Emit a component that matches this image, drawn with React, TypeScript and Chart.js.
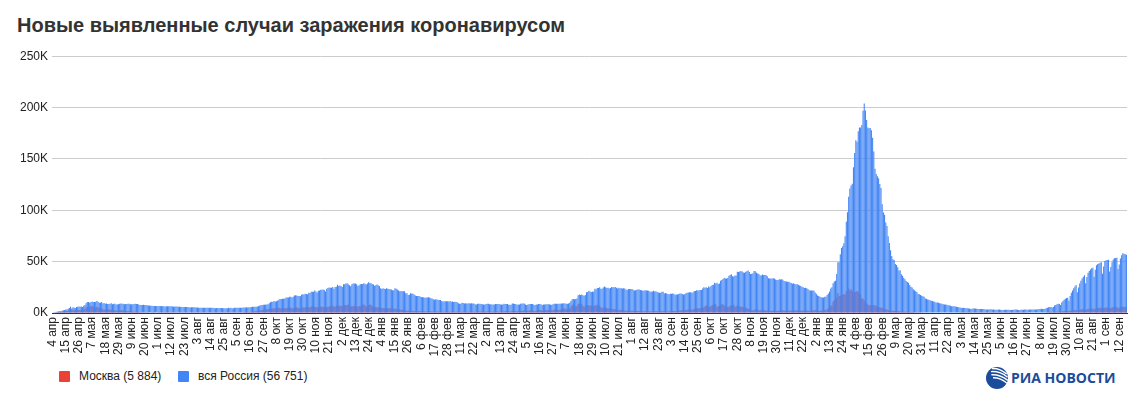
import React, { useEffect, useRef } from "react";
import { Chart, registerables } from "chart.js";

Chart.register(...registerables);

// ---- categories / tick labels ----
const MONTHS = ["янв", "фев", "мар", "апр", "мая", "июн", "июл", "авг", "сен", "окт", "ноя", "дек"];
const START_YEAR = 2020;
const START_MONTH = 3; // April (0-based)
const START_DAY = 4;
const TICK_EVERY = 11;

const tickLabels = [
  "4 апр", "15 апр", "26 апр", "7 мая", "18 мая", "29 мая", "9 июн", "20 июн", "1 июл", "12 июл",
  "23 июл", "3 авг", "14 авг", "25 авг", "5 сен", "16 сен", "27 сен", "8 окт", "19 окт", "30 окт",
  "10 ноя", "21 ноя", "2 дек", "13 дек", "24 дек", "4 янв", "15 янв", "26 янв", "6 фев", "17 фев",
  "28 фев", "11 мар", "22 мар", "2 апр", "13 апр", "24 апр", "5 мая", "16 мая", "27 мая", "7 июн",
  "18 июн", "29 июн", "10 июл", "21 июл", "1 авг", "12 авг", "23 авг", "3 сен", "14 сен", "25 сен",
  "6 окт", "17 окт", "28 окт", "8 ноя", "19 ноя", "30 ноя", "11 дек", "22 дек", "2 янв", "13 янв",
  "24 янв", "4 фев", "15 фев", "26 фев", "9 мар", "20 мар", "31 мар", "11 апр", "22 апр", "3 мая",
  "14 мая", "25 мая", "5 июн", "16 июн", "27 июн", "8 июл", "19 июл", "30 июл", "10 авг", "21 авг",
  "1 сен", "12 сен",
];

// ---- series: daily new cases, thousands ----
// вся Россия, 4 Apr 2020 – 31 Dec 2020
const russia2020 = [
  0.6, 0.7, 1.0, 1.2, 1.2, 1.5, 1.8, 1.7, 2.2, 2.6, 2.8, 3.4, 3.4, 4.1, 4.8, 6.1, 4.3, 5.6, 5.2, 4.8, 5.8, 6.0, 6.4, 6.2, 6.4, 5.8, 7.1,
  7.9, 9.6, 10.6, 10.6, 10.1, 10.6, 11.2, 10.7, 10.8, 11.0, 11.7, 10.9, 10.0, 10.0, 10.6, 9.2, 9.7, 8.9, 9.3, 8.8, 8.8, 8.9, 9.4, 8.6, 9.0, 8.9, 8.3, 8.4, 8.6, 9.0, 9.3,
  9.0, 8.9, 8.5, 8.8, 8.7, 8.9, 9.0, 8.6, 8.6, 8.4, 8.8, 9.0, 8.7, 8.8, 8.2, 7.8, 7.8, 7.8, 8.0, 7.9, 7.7, 7.6, 7.4, 7.2, 7.1, 7.1, 6.9, 6.8, 6.7, 6.7,
  6.6, 6.8, 6.8, 6.6, 6.7, 6.6, 6.4, 6.6, 6.5, 6.6, 6.6, 6.6, 6.5, 6.2, 6.4, 6.4, 6.3, 6.2, 6.1, 6.0, 5.8, 5.9, 5.8, 5.8, 5.9, 5.8, 5.6, 5.4, 5.5, 5.5, 5.5,
  5.5, 5.4, 5.4, 5.2, 5.2, 5.2, 5.2, 5.2, 5.2, 5.1, 5.0, 5.1, 5.1, 5.1, 5.1, 5.1, 4.8, 4.7, 4.8, 4.8, 4.9, 4.9, 4.9, 4.9, 4.7, 4.7, 4.7, 4.7, 5.0, 4.9, 5.0,
  4.7, 4.7, 5.0, 5.1, 5.2, 5.2, 5.2, 5.1, 5.2, 5.4, 5.4, 5.4, 5.5, 5.4, 5.5, 5.7, 5.9, 6.1, 6.1, 6.1, 6.2, 6.4, 6.6, 7.2, 7.5, 7.9, 8.1, 8.1, 8.2, 8.2,
  8.5, 9.4, 10.5, 10.9, 10.9, 11.6, 11.1, 11.5, 12.1, 12.8, 13.6, 13.6, 13.9, 13.8, 14.2, 15.2, 15.2, 15.0, 15.9, 15.8, 15.0, 15.7, 17.0, 17.3, 17.0, 16.6, 16.6, 16.2, 17.7, 18.3, 18.1,
  18.7, 18.6, 18.3, 19.8, 19.4, 20.6, 20.6, 20.6, 21.8, 20.9, 19.9, 21.6, 22.0, 22.7, 22.6, 22.8, 22.4, 21.0, 23.6, 24.3, 24.8, 24.6, 24.6, 25.2, 23.7, 25.3, 25.5, 27.5, 26.3, 26.7,
  26.4, 25.3, 28.1, 28.0, 28.8, 29.0, 28.1, 27.0, 26.1, 27.9, 28.6, 28.6, 28.6, 28.1, 26.4, 27.0, 27.9, 28.2, 28.2, 28.9, 28.5, 27.8, 28.6, 29.9, 29.3, 29.0, 28.3, 27.8, 26.5, 27.0, 27.7,
];
// вся Россия, 2021
const russia2021 = [
  27.0, 26.3, 24.2, 23.4, 24.2, 23.5, 23.4, 24.0, 23.7, 23.3, 23.0, 22.9, 22.2, 22.2, 24.1, 23.7, 22.9, 22.0, 21.1, 21.3, 21.2, 21.1, 21.1, 19.3, 19.2, 17.6, 17.7, 19.2, 19.1, 18.7, 18.1,
  17.0, 16.6, 16.6, 16.5, 16.0, 15.6, 15.4, 15.3, 14.9, 15.0, 15.2, 15.4, 15.2, 14.4, 14.0, 13.4, 13.0, 13.4, 13.1, 12.9, 12.7, 12.7, 11.8, 11.2, 11.4, 11.5, 11.5, 11.5,
  11.3, 11.6, 11.0, 11.2, 10.6, 11.0, 10.6, 10.5, 9.4, 9.1, 9.1, 9.9, 9.8, 9.3, 9.5, 9.3, 9.3, 9.4, 9.3, 9.4, 9.3, 9.3, 8.4, 8.3, 9.1, 9.0, 9.1, 8.8, 8.6, 8.3, 8.2,
  8.8, 9.0, 8.9, 8.6, 8.6, 8.3, 8.3, 8.2, 8.8, 8.8, 8.7, 8.7, 8.2, 8.2, 8.3, 9.0, 8.8, 8.7, 8.7, 8.1, 8.1, 8.1, 9.3, 9.3, 8.8, 8.8, 8.1, 8.2, 8.3, 9.0,
  9.3, 9.3, 9.2, 8.2, 7.8, 8.3, 8.4, 8.7, 8.7, 8.7, 8.0, 7.9, 8.2, 8.3, 8.8, 8.8, 8.6, 7.8, 8.2, 8.2, 8.6, 8.6, 8.6, 8.4, 8.1, 8.1, 8.4, 8.9, 9.0, 9.1, 9.0,
  8.9, 9.1, 9.3, 9.3, 9.5, 9.3, 9.0, 9.0, 9.2, 9.9, 11.7, 13.5, 13.7, 13.4, 13.7, 14.1, 17.3, 17.9, 17.6, 17.9, 17.4, 16.7, 17.6, 20.2, 20.4, 21.7, 21.0, 20.5, 20.6, 21.0,
  23.5, 23.2, 24.4, 24.4, 25.1, 23.7, 23.5, 24.8, 25.8, 25.1, 24.4, 24.7, 23.8, 24.4, 25.3, 25.0, 25.0, 25.2, 24.6, 23.8, 24.5, 24.1, 24.1, 23.8, 24.1, 23.8, 22.8, 22.4, 23.3, 23.3, 23.3,
  23.3, 22.6, 21.9, 22.1, 22.6, 22.8, 22.8, 22.5, 22.2, 21.6, 21.9, 22.2, 22.0, 21.8, 21.6, 21.0, 20.8, 21.0, 21.6, 21.0, 21.1, 20.5, 20.0, 19.7, 19.6, 20.8, 20.7, 19.1, 19.5, 18.9, 18.6,
  18.3, 18.8, 18.8, 18.9, 18.8, 17.8, 17.9, 17.9, 18.6, 18.9, 18.9, 18.6, 18.0, 18.3, 19.3, 19.6, 19.9, 20.3, 20.2, 19.7, 20.2, 21.4, 21.4, 22.1, 21.9, 22.2, 22.3, 22.4, 23.9, 25.1,
  24.5, 25.0, 24.4, 25.8, 25.1, 26.4, 27.2, 27.6, 29.4, 28.6, 29.4, 28.2, 28.7, 31.3, 32.2, 33.2, 34.3, 33.7, 33.7, 34.1, 36.3, 37.1, 37.7, 35.7, 35.6, 36.4, 36.6, 40.1, 39.8, 40.3, 41.0,
  40.4, 39.4, 39.2, 40.2, 40.7, 41.3, 39.8, 38.0, 38.1, 38.6, 40.8, 40.6, 39.2, 38.5, 37.9, 36.8, 36.6, 37.4, 37.1, 37.1, 36.9, 35.7, 33.9, 33.6, 33.6, 33.7, 33.9, 33.5, 32.6, 32.1,
  32.1, 32.9, 32.6, 32.8, 32.4, 31.1, 31.0, 30.6, 30.4, 30.5, 29.6, 29.1, 28.5, 28.9, 28.3, 28.1, 28.0, 27.5, 26.8, 26.2, 25.5, 25.0, 24.4, 24.7, 24.2, 23.4, 22.1, 21.9, 21.9, 21.8, 21.9,
];
// вся Россия, 1 Jan 2022 – 18 Sep 2022
const russia2022 = [
  20.0, 18.8, 17.1, 16.6, 15.9, 15.4, 15.1, 15.2, 15.8, 15.9, 17.5, 19.1, 21.0, 23.8, 25.1, 29.0, 30.7, 31.3, 38.0, 49.5, 49.5, 57.2, 63.2, 65.1, 67.8, 74.7, 88.8, 98.0, 113.1, 121.2, 124.1,
  125.8, 141.9, 155.8, 168.2, 166.6, 177.0, 180.5, 180.5, 183.1, 197.0, 203.9, 197.1, 187.9, 180.5, 179.9, 180.1, 177.8, 170.5, 157.2, 140.4, 135.2, 133.2, 131.1, 125.6, 121.8, 105.8, 98.0, 95.6,
  88.2, 84.6, 74.7, 68.1, 61.2, 55.5, 52.3, 51.6, 47.6, 46.8, 44.6, 41.3, 41.6, 37.8, 36.3, 34.2, 32.8, 31.1, 30.2, 29.4, 27.3, 25.6, 24.8, 23.1, 22.1, 21.1, 20.4, 18.6, 18.2, 17.6, 16.9,
  16.2, 15.9, 14.1, 13.8, 13.1, 12.9, 12.5, 11.9, 11.7, 11.3, 10.9, 10.1, 10.4, 10.0, 9.4, 9.3, 9.1, 8.6, 8.3, 8.2, 8.0, 7.6, 7.5, 7.1, 6.6, 6.5, 6.5, 6.3, 6.2, 5.8,
  5.7, 5.3, 5.0, 4.9, 5.0, 4.8, 4.8, 4.7, 4.5, 4.3, 4.0, 4.2, 4.4, 4.4, 4.3, 4.2, 3.8, 3.9, 3.9, 3.9, 3.9, 3.8, 3.5, 3.4, 3.5, 3.5, 3.6, 3.6, 3.5, 3.3, 3.1,
  3.2, 3.2, 3.3, 3.3, 3.2, 3.0, 3.0, 3.1, 3.1, 3.2, 3.2, 3.1, 3.0, 2.9, 3.1, 3.2, 3.3, 3.3, 3.2, 2.9, 2.9, 3.1, 3.2, 3.2, 3.3, 3.3, 3.1, 3.1, 3.3, 3.4,
  3.5, 3.5, 3.5, 3.3, 3.4, 3.7, 3.9, 4.0, 4.2, 4.0, 3.9, 4.2, 4.7, 5.1, 5.5, 5.9, 5.8, 5.3, 5.9, 7.3, 7.9, 8.5, 9.0, 8.7, 7.8, 10.2, 11.7, 12.8, 13.9, 14.5, 14.9,
  11.9, 16.5, 19.8, 22.0, 24.1, 25.9, 27.2, 20.1, 24.8, 28.6, 31.3, 33.5, 35.4, 36.8, 28.9, 35.1, 39.2, 41.0, 42.3, 43.5, 44.1, 35.2, 42.0, 46.4, 47.6, 48.3, 49.0, 49.5, 38.3, 45.2, 50.6,
  51.3, 51.6, 51.9, 40.4, 44.8, 49.5, 52.1, 53.2, 53.6, 53.9, 42.8, 47.3, 53.0, 56.2, 58.1, 57.6, 57.3, 56.751,
];

// Москва, 4 Apr 2020 – 31 Dec 2020
const moscow2020 = [
  0.4, 0.4, 0.6, 0.7, 0.8, 1.1, 1.3, 1.1, 1.4, 1.5, 1.3, 1.9, 2.0, 2.0, 3.6, 3.6, 2.7, 3.1, 2.5, 2.4, 3.1, 2.6, 2.9, 2.5, 3.1, 2.2, 3.4,
  4.1, 5.4, 6.0, 5.8, 5.9, 6.7, 6.7, 5.7, 5.7, 5.4, 6.2, 5.4, 4.8, 4.7, 4.8, 3.5, 3.5, 3.2, 3.5, 3.4, 3.5, 3.1, 2.8, 2.5, 2.5, 2.6, 2.1, 2.1, 2.3, 2.3, 2.6,
  2.6, 2.3, 1.8, 2.0, 1.6, 1.6, 1.6, 1.6, 1.2, 1.1, 1.2, 1.2, 1.0, 1.0, 1.0, 0.7, 0.7, 0.8, 0.8, 0.8, 0.8, 0.8, 0.7, 0.6, 0.6, 0.7, 0.7, 0.7, 0.6, 0.6,
  0.62, 0.62, 0.66, 0.68, 0.68, 0.68, 0.66, 0.64, 0.63, 0.65, 0.67, 0.68, 0.67, 0.66, 0.65, 0.67, 0.65, 0.66, 0.66, 0.66, 0.64, 0.67, 0.68, 0.68, 0.69, 0.69, 0.69, 0.67, 0.69, 0.69, 0.68,
  0.68, 0.69, 0.70, 0.67, 0.69, 0.68, 0.69, 0.70, 0.69, 0.67, 0.65, 0.68, 0.69, 0.70, 0.69, 0.68, 0.66, 0.65, 0.66, 0.68, 0.68, 0.69, 0.68, 0.66, 0.65, 0.66, 0.68, 0.70, 0.71, 0.72, 0.71,
  0.68, 0.69, 0.73, 0.74, 0.75, 0.77, 0.76, 0.77, 0.77, 0.80, 0.86, 0.93, 0.97, 1.05, 1.06, 1.05, 1.15, 1.35, 1.55, 1.59, 1.67, 1.78, 2.01, 2.30, 2.70, 2.90, 3.32, 3.49, 3.61, 3.63,
  3.73, 4.08, 4.65, 4.49, 4.45, 4.98, 4.43, 4.75, 5.07, 4.99, 4.62, 4.46, 4.57, 4.53, 4.54, 4.54, 5.20, 5.23, 5.36, 5.23, 4.69, 4.60, 5.70, 5.09, 5.58, 5.21, 4.65, 4.23, 4.57, 5.26, 5.47,
  5.46, 5.90, 5.28, 5.29, 5.89, 6.10, 6.25, 6.90, 6.20, 5.85, 5.45, 5.48, 5.59, 6.45, 5.86, 5.97, 5.70, 5.59, 5.52, 6.00, 6.17, 7.17, 6.87, 6.43, 6.73, 5.77, 6.95, 6.51, 7.08, 7.11,
  6.97, 6.50, 6.95, 7.45, 7.75, 7.73, 7.94, 6.69, 6.17, 6.69, 6.61, 7.06, 7.99, 6.43, 6.07, 6.83, 6.67, 7.48, 7.79, 8.20, 7.61, 6.04, 6.31, 7.86, 8.29, 7.96, 6.55, 5.98, 5.53, 5.55, 5.60,
];
// Москва, 2021
const moscow2021 = [
  5.40, 5.30, 5.12, 4.75, 4.84, 4.70, 4.62, 4.70, 4.60, 4.58, 4.65, 4.19, 4.11, 4.12, 4.26, 3.96, 3.57, 3.39, 3.45, 3.20, 3.06, 2.99, 2.83, 2.55, 2.31, 2.10, 2.38, 2.30, 2.20, 2.05, 2.01,
  1.82, 1.78, 1.75, 1.82, 1.94, 1.76, 1.67, 1.60, 1.39, 1.53, 1.59, 1.62, 1.61, 1.50, 1.39, 1.32, 1.33, 1.44, 1.43, 1.36, 1.31, 1.25, 1.21, 1.14, 1.28, 1.33, 1.29, 1.26,
  1.19, 1.16, 1.27, 1.36, 1.26, 1.30, 1.20, 1.18, 1.07, 1.01, 1.08, 1.21, 1.24, 1.14, 1.14, 1.06, 1.23, 1.28, 1.28, 1.24, 1.24, 1.12, 1.08, 1.20, 1.41, 1.41, 1.39, 1.40, 1.20, 1.13, 1.28,
  1.36, 1.49, 1.51, 1.44, 1.30, 1.24, 1.29, 1.43, 1.51, 1.51, 1.47, 1.31, 1.10, 1.29, 1.40, 1.53, 1.59, 1.60, 1.50, 1.34, 1.46, 1.48, 1.92, 1.96, 1.83, 1.67, 1.47, 1.59, 1.72, 1.78,
  2.13, 2.24, 2.43, 2.20, 1.83, 2.20, 2.32, 2.43, 2.41, 2.32, 1.79, 2.03, 2.22, 2.44, 2.64, 2.80, 2.68, 2.13, 2.30, 2.37, 2.56, 2.75, 2.83, 2.50, 2.34, 2.32, 2.67, 3.07, 3.17, 3.39, 3.12,
  2.98, 3.08, 3.73, 3.93, 4.32, 4.28, 3.82, 3.46, 3.70, 4.17, 6.03, 7.60, 8.27, 6.81, 6.57, 6.75, 9.06, 9.06, 8.59, 9.12, 7.00, 5.95, 7.34, 7.92, 7.55, 7.45, 7.01, 7.34, 5.59, 6.55,
  7.27, 7.60, 7.91, 6.31, 7.04, 5.60, 4.73, 5.37, 5.40, 5.34, 4.85, 4.34, 4.35, 4.46, 4.23, 3.91, 3.63, 3.80, 2.94, 2.65, 2.79, 3.05, 3.06, 3.04, 2.93, 2.50, 2.22, 2.24, 2.43, 2.41, 2.31,
  2.29, 2.07, 1.86, 1.94, 1.96, 1.94, 1.84, 1.78, 1.57, 1.44, 1.59, 1.72, 1.73, 1.80, 1.74, 1.57, 1.56, 1.60, 1.67, 1.71, 1.70, 1.73, 1.48, 1.54, 1.66, 1.71, 1.70, 1.60, 1.55, 1.36, 1.44,
  1.51, 1.62, 1.78, 1.83, 1.88, 1.65, 1.79, 2.02, 2.26, 2.47, 2.59, 2.58, 2.32, 2.54, 2.87, 3.09, 3.30, 3.54, 3.51, 3.18, 3.48, 3.89, 4.05, 4.32, 4.60, 4.60, 4.57, 4.98, 5.08, 5.39,
  6.53, 7.20, 7.28, 5.88, 6.13, 6.88, 7.65, 8.37, 8.55, 8.58, 6.12, 6.37, 6.82, 7.77, 8.65, 8.21, 7.55, 6.37, 5.72, 5.69, 6.10, 6.97, 7.49, 7.77, 8.13, 6.19, 6.28, 7.53, 8.30, 6.66, 6.00,
  5.97, 5.46, 4.71, 5.07, 5.15, 3.97, 3.80, 2.85, 2.45, 2.71, 3.17, 3.48, 3.73, 3.41, 2.64, 2.54, 2.59, 2.88, 2.80, 2.64, 2.40, 2.09, 1.88, 2.00, 2.05, 2.22, 2.49, 2.34, 1.88, 1.84,
  2.14, 2.34, 2.47, 2.57, 2.56, 2.23, 2.29, 2.37, 2.39, 2.28, 2.35, 2.12, 2.01, 2.31, 2.32, 2.39, 2.47, 2.31, 2.16, 2.16, 2.24, 2.39, 2.40, 2.53, 2.44, 2.31, 2.09, 1.98, 2.24, 2.71, 2.79,
];
// Москва, 1 Jan 2022 – 18 Sep 2022
const moscow2022 = [
  2.63, 2.80, 2.26, 2.31, 2.30, 2.38, 2.29, 2.35, 2.79, 2.87, 3.69, 4.76, 5.44, 6.63, 7.63, 11.2, 12.7, 11.3, 15.2, 19.4, 16.8, 16.8, 18.4, 17.8, 18.6, 18.1, 21.5, 20.4, 23.8, 21.9, 23.0,
  21.2, 20.1, 20.2, 20.8, 21.3, 20.2, 19.3, 18.2, 14.3, 13.9, 12.4, 10.6, 9.4, 8.2, 7.6, 7.6, 7.8, 7.7, 7.6, 7.5, 7.0, 6.3, 5.7, 5.6, 5.4, 4.9, 4.4, 4.0,
  3.6, 3.3, 3.0, 2.7, 2.5, 2.3, 2.2, 2.0, 1.9, 1.8, 1.7, 1.6, 1.5, 1.4, 1.3, 1.3, 1.2, 1.2, 1.1, 1.1, 1.0, 0.9, 0.9, 0.9, 0.8, 0.8, 0.8, 0.7, 0.7, 0.7, 0.6,
  0.62, 0.60, 0.58, 0.55, 0.53, 0.54, 0.52, 0.50, 0.51, 0.49, 0.48, 0.47, 0.48, 0.46, 0.45, 0.44, 0.45, 0.43, 0.42, 0.43, 0.42, 0.41, 0.40, 0.41, 0.40, 0.39, 0.38, 0.39, 0.38, 0.37,
  0.37, 0.36, 0.35, 0.36, 0.35, 0.34, 0.33, 0.34, 0.33, 0.32, 0.32, 0.33, 0.32, 0.31, 0.31, 0.30, 0.31, 0.30, 0.30, 0.31, 0.30, 0.29, 0.30, 0.29, 0.30, 0.29, 0.28, 0.29, 0.30, 0.29, 0.28,
  0.29, 0.30, 0.29, 0.28, 0.29, 0.28, 0.30, 0.29, 0.30, 0.31, 0.30, 0.29, 0.30, 0.31, 0.32, 0.31, 0.32, 0.33, 0.32, 0.31, 0.32, 0.33, 0.34, 0.35, 0.34, 0.35, 0.36, 0.37, 0.38, 0.39,
  0.40, 0.41, 0.42, 0.40, 0.43, 0.46, 0.49, 0.51, 0.53, 0.52, 0.55, 0.60, 0.68, 0.76, 0.82, 0.88, 0.87, 0.80, 0.91, 1.08, 1.20, 1.30, 1.38, 1.32, 1.21, 1.42, 1.70, 1.88, 2.01, 2.10, 2.05,
  1.70, 2.25, 2.55, 2.70, 2.85, 2.95, 3.00, 2.40, 2.85, 3.20, 3.45, 3.60, 3.70, 3.75, 3.00, 3.55, 4.00, 4.15, 4.25, 4.35, 4.40, 3.55, 4.20, 4.70, 4.85, 4.95, 5.00, 5.05, 3.90, 4.60, 5.20,
  5.30, 5.40, 5.45, 4.30, 4.80, 5.30, 5.60, 5.75, 5.80, 5.85, 4.60, 5.10, 5.70, 5.95, 6.10, 6.05, 5.95, 5.884,
];

const russia = [...russia2020, ...russia2021, ...russia2022];
const moscow = [...moscow2020, ...moscow2021, ...moscow2022];

const categories = russia.map((_, i) => {
  const d = new Date(START_YEAR, START_MONTH, START_DAY + i);
  return `${d.getDate()} ${MONTHS[d.getMonth()]}`;
});

const seriesNames = ["Москва", "вся Россия"];
const BLUE = "#4285f4";
const RED = "#ea4335";
const FONT = '"Liberation Sans", Arial, Helvetica, sans-serif';

const fmt = (v: number) =>
  String(Math.round(v * 1000)).replace(/\B(?=(\d{3})+(?!\d))/g, " ");

export default function App() {
  const ref = useRef<HTMLCanvasElement>(null);

  useEffect(() => {
    if (!ref.current) return;
    const chart = new Chart(ref.current, {
      type: "bar",
      data: {
        labels: categories,
        datasets: [
          {
            label: seriesNames[1],
            data: russia,
            backgroundColor: BLUE,
            grouped: false,
            barPercentage: 0.9,
            categoryPercentage: 1,
            order: 0,
          } as any,
          {
            label: seriesNames[0],
            data: moscow,
            backgroundColor: RED,
            grouped: false,
            barPercentage: 0.9,
            categoryPercentage: 1,
            order: 1,
          } as any,
        ],
      },
      options: {
        animation: false,
        responsive: false,
        maintainAspectRatio: false,
        layout: { padding: { top: 10, right: 17, left: 0, bottom: 0 } },
        plugins: { legend: { display: false }, tooltip: { enabled: false } },
        scales: {
          x: {
            grid: { display: false, drawTicks: false },
            border: { display: true, color: "#333333", width: 1 },
            ticks: {
              autoSkip: false,
              minRotation: 90,
              maxRotation: 90,
              padding: 4,
              color: "#222222",
              font: { family: FONT, size: 12 },
              callback: (_v: any, i: number) =>
                i % TICK_EVERY === 0 ? tickLabels[i / TICK_EVERY] : null,
            },
            afterFit: (s: any) => {
              s.height = 52;
            },
          },
          y: {
            min: 0,
            max: 250,
            ticks: {
              stepSize: 50,
              padding: 4,
              color: "#222222",
              font: { family: FONT, size: 12 },
              callback: (v: any) => `${v}K`,
            },
            grid: {
              color: (ctx: any) => (ctx.tick && ctx.tick.value === 0 ? "#333333" : "#cccccc"),
              drawTicks: false,
            },
            border: { display: false },
            afterFit: (s: any) => {
              s.width = 52;
            },
          },
        },
      },
    });
    return () => chart.destroy();
  }, []);

  const lastMoscow = moscow[moscow.length - 1];
  const lastRussia = russia[russia.length - 1];

  return (
    <div
      style={{
        position: "absolute",
        left: 0,
        top: 0,
        width: 1144,
        height: 403,
        background: "#ffffff",
        fontFamily: FONT,
        overflow: "hidden",
      }}
    >
      <div
        style={{
          position: "absolute",
          left: 17,
          top: 15,
          fontSize: 20,
          lineHeight: "20px",
          fontWeight: 700,
          color: "#333333",
          whiteSpace: "nowrap",
        }}
      >
        Новые выявленные случаи заражения коронавирусом
      </div>
      <canvas
        ref={ref}
        width={1144}
        height={320}
        style={{ position: "absolute", left: 0, top: 45, width: 1144, height: 320 }}
      />
      {/* legend */}
      <div style={{ position: "absolute", left: 59, top: 371, width: 11, height: 11, background: RED, borderRadius: 1 }} />
      <div style={{ position: "absolute", left: 79, top: 369, fontSize: 12, lineHeight: "15px", color: "#222222", whiteSpace: "nowrap" }}>
        {`${seriesNames[0]} (${fmt(lastMoscow)})`}
      </div>
      <div style={{ position: "absolute", left: 178, top: 371, width: 11, height: 11, background: BLUE, borderRadius: 1 }} />
      <div style={{ position: "absolute", left: 198, top: 369, fontSize: 12, lineHeight: "15px", color: "#222222", whiteSpace: "nowrap" }}>
        {`${seriesNames[1]} (${fmt(lastRussia)})`}
      </div>
      {/* logo */}
      <svg
        width={24}
        height={24}
        viewBox="0 0 24 24"
        style={{ position: "absolute", left: 985, top: 366 }}
      >
        <circle cx={12} cy={12} r={11} fill="#1b4c9c" />
        <path d="M7 2.6 Q15 2.2 21.6 8" stroke="#fff" strokeWidth={1.4} fill="none" />
        <path d="M6 5.6 Q15 5 22.6 11.2" stroke="#fff" strokeWidth={1.4} fill="none" />
        <path d="M6.4 8.8 Q15 8.2 22.8 14.4" stroke="#fff" strokeWidth={1.4} fill="none" />
        <path d="M8 11.8 Q15.5 11.6 22 17.2" stroke="#fff" strokeWidth={1.4} fill="none" />
      </svg>
      <div
        style={{
          position: "absolute",
          left: 1011,
          top: 369,
          fontFamily: '"Open Sans", "Liberation Sans", Arial, sans-serif',
          fontWeight: 700,
          fontSize: 14,
          lineHeight: "18px",
          color: "#1b4c9c",
          whiteSpace: "nowrap",
        }}
      >
        РИА НОВОСТИ
      </div>
    </div>
  );
}
